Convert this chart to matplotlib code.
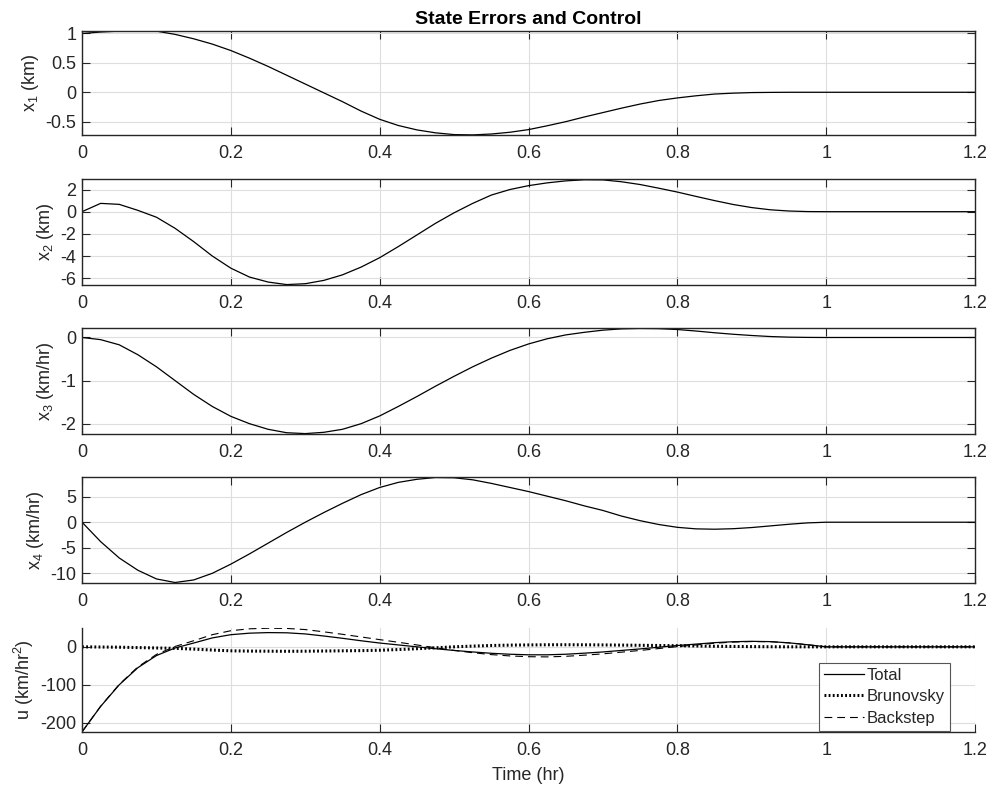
import numpy as np
import matplotlib.pyplot as plt
from matplotlib.ticker import FuncFormatter

plt.rcParams['font.family'] = ['Liberation Sans', 'DejaVu Sans']
plt.rcParams['mathtext.default'] = 'regular'
plt.rcParams['axes.unicode_minus'] = False

# Time samples (hr): every 0.025 up to 1 hr, then hold to 1.2 hr
t_hr = np.append(np.linspace(0, 1, 41), 1.2)

# State errors
x1 = [1.0, 1.025, 1.04, 1.045, 1.04, 0.985, 0.91, 0.82, 0.71, 0.58, 0.44, 0.29,
      0.14, -0.01, -0.16, -0.32, -0.46, -0.565, -0.64, -0.69, -0.72, -0.725,
      -0.71, -0.68, -0.635, -0.57, -0.50, -0.42, -0.345, -0.27, -0.20, -0.14,
      -0.096, -0.06, -0.03, -0.015, -0.005, -0.002, 0, 0, 0, 0]
x2 = [0, 0.75, 0.66, 0.12, -0.5, -1.5, -2.7, -4.0, -5.1, -5.9, -6.35, -6.58,
      -6.5, -6.2, -5.7, -5.0, -4.15, -3.15, -2.1, -1.05, -0.1, 0.75, 1.5, 2.0,
      2.35, 2.6, 2.78, 2.88, 2.87, 2.7, 2.45, 2.12, 1.77, 1.38, 1.0, 0.65, 0.37,
      0.17, 0.06, 0.01, 0, 0]
x3 = [0, -0.05, -0.17, -0.4, -0.68, -1.0, -1.32, -1.6, -1.83, -2.0, -2.13, -2.21,
      -2.23, -2.2, -2.13, -2.0, -1.82, -1.6, -1.37, -1.13, -0.9, -0.68, -0.48,
      -0.3, -0.15, -0.03, 0.06, 0.12, 0.17, 0.2, 0.21, 0.205, 0.185, 0.15, 0.11,
      0.075, 0.046, 0.022, 0.008, 0.002, 0, 0]
x4 = [0, -3.8, -7.0, -9.4, -11.1, -11.8, -11.3, -10.0, -8.2, -6.2, -4.1, -2.0,
      0.0, 1.9, 3.7, 5.4, 6.8, 7.8, 8.4, 8.75, 8.7, 8.3, 7.6, 6.8, 6.0, 5.1, 4.2,
      3.2, 2.3, 1.2, 0.3, -0.45, -1.0, -1.3, -1.37, -1.27, -1.04, -0.72, -0.4,
      -0.13, 0, 0]

# Control input components (km/hr^2)
u_total = [-224, -157, -100, -55, -23, -3, 10, 23.5, 32, 36, 37.5, 37, 34, 28.5,
           22.5, 16, 10, 5, 0, -5, -9.5, -13.5, -17, -19.5, -21, -21, -19.5,
           -16.7, -13.5, -9.5, -5.5, -1, 3.5, 7.2, 11, 13.5, 14.5, 13.7, 10.5,
           5.5, 0, 0]
u_brunovsky = [0, -0.5, -1, -2, -3, -4, -6, -8.5, -10.5, -11.2, -11.5, -11.7,
               -11.5, -11, -10.5, -10, -9, -7.2, -5, -2.5, 0, 2, 3.5, 4.5, 5,
               5.4, 5.5, 5.3, 5, 4.5, 4, 3.5, 3, 2.2, 1.5, 1, 0.5, 0.2, 0, 0,
               0, 0]
u_backstep = [-224, -156.5, -99, -53, -20, 1, 16, 32, 42.5, 47.5, 49, 48.5, 45.5,
              39.5, 33, 26, 19, 12, 5, -2.5, -9.5, -15.5, -20.5, -24, -26, -26.5,
              -25, -22, -18.5, -14, -9.5, -4.5, 0.5, 5, 9.5, 12.5, 14, 13.5,
              10.5, 5.5, 0, 0]

x_ticks = [0, 0.2, 0.4, 0.6, 0.8, 1.0, 1.2]
ylabels = ['x$_1$ (km)', 'x$_2$ (km)', 'x$_3$ (km/hr)', 'x$_4$ (km/hr)',
           'u (km/hr$^2$)']
yticks = [[-0.5, 0, 0.5, 1], [-6, -4, -2, 0, 2], [-2, -1, 0], [-10, -5, 0, 5],
          [-200, -100, 0]]
ylims = [(-0.727, 1.047), (-6.62, 2.92), (-2.24, 0.22), (-11.9, 8.85),
         (-224.5, 49.5)]

txt = '#262626'
fig = plt.figure(figsize=(9.92, 7.9), dpi=100)
bottoms = [0.8291, 0.6392, 0.4506, 0.2620, 0.0734]
heights = [0.1320, 0.1338, 0.1342, 0.1342, 0.1316]
axes = [fig.add_axes([0.0827, b, 0.9002, h]) for b, h in zip(bottoms, heights)]

for ax, yy in zip(axes[:4], [x1, x2, x3, x4]):
    ax.plot(t_hr, yy, color='k', lw=0.9)

ax5 = axes[4]
ax5.plot(t_hr, u_total, color='k', lw=0.9, label='Total')
ax5.plot(t_hr, u_brunovsky, color='k', lw=2.2, linestyle=(0, (0.6, 0.75)),
         label='Brunovsky')
ax5.plot(t_hr, u_backstep, color='k', lw=0.8, linestyle=(0, (7, 4.5)),
         label='Backstep')

fmt = FuncFormatter(lambda v, p: f'{v:g}')
for i, ax in enumerate(axes):
    ax.set_xlim(0, 1.2)
    ax.set_ylim(*ylims[i])
    ax.set_xticks(x_ticks)
    ax.set_yticks(yticks[i])
    ax.xaxis.set_major_formatter(fmt)
    ax.yaxis.set_major_formatter(fmt)
    ax.grid(True, color='#dedede', lw=0.8)
    ax.set_axisbelow(True)
    ax.tick_params(direction='in', length=6, width=0.8, colors=txt,
                   labelsize=13, top=(i < 4), right=(i < 4))
    ax.tick_params(axis='x', pad=7)
    ax.tick_params(axis='y', pad=4)
    for s in ax.spines.values():
        s.set_color(txt)
        s.set_linewidth(1.0)
    ax.set_ylabel(ylabels[i], fontsize=13, color=txt, labelpad=3)

ax5.spines['top'].set_visible(False)
ax5.spines['right'].set_visible(False)
ax5.set_xlabel('Time (hr)', fontsize=13, color=txt, labelpad=6)

axes[0].set_title('State Errors and Control', fontsize=14, fontweight='bold',
                  color='k', pad=5)

leg = ax5.legend(loc='lower right', bbox_to_anchor=(0.972, 0.01),
                 borderaxespad=0, fontsize=12, fancybox=False, framealpha=1,
                 edgecolor='#555555', handlelength=2.4, handletextpad=0.15,
                 labelspacing=0.4, borderpad=0.3)
leg.get_frame().set_linewidth(0.8)
for t in leg.get_texts():
    t.set_color(txt)

fig.savefig('out.png', dpi=100)
